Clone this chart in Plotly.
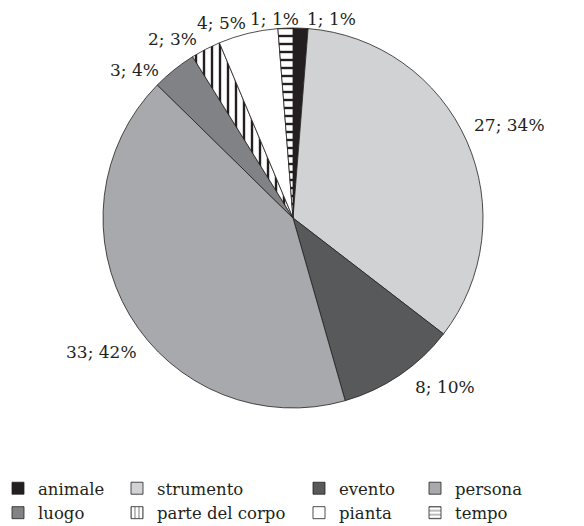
import plotly.graph_objects as go

labels = ["animale", "strumento", "evento", "persona", "luogo", "parte del corpo", "pianta", "tempo"]
values = [1, 27, 8, 33, 3, 2, 4, 1]
colors = ["#231f20", "#d1d2d3", "#58595b", "#a7a9ac", "#808285", "#ffffff", "#ffffff", "#ffffff"]
shapes = ["", "", "", "", "", "|", "", "-"]
# legend column for each category (legend layout: 4 columns x 2 rows)
legend_cols = ["legend", "legend2", "legend3", "legend4", "legend", "legend2", "legend3", "legend4"]

# page has an 8px body margin, so the figure is drawn 8px smaller
OFF = 8
W, H = 584 - OFF, 526 - OFF
FONT = "DejaVu Serif"
TXT = "#231f20"

# data-label text positions (page pixel centres of the text boxes)
label_px = [(331, 19), (509, 125), (445, 387), (101, 352), (134, 70), (172, 39), (221, 23), (274, 19)]

total = sum(values)
label_text = [f"{v}; {round(v / total * 100)}%" for v in values]


def px_x(p):
    return (p - OFF) / W


def px_y(p):
    return 1 - (p - OFF) / H


fig = go.Figure()

fig.add_trace(go.Pie(
    labels=labels,
    values=values,
    sort=False,
    direction="clockwise",
    rotation=0,
    marker=dict(
        colors=colors,
        line=dict(color="#231f20", width=0.8),
        pattern=dict(shape=shapes, fgcolor="#231f20", bgcolor="#ffffff",
                     size=8, solidity=0.3, fillmode="replace"),
    ),
    textinfo="none",
    showlegend=False,
    domain=dict(x=[px_x(103), px_x(483)], y=[px_y(408), px_y(28)]),
    hoverinfo="label+value+percent",
))

for lab, col, shp, lg in zip(labels, colors, shapes, legend_cols):
    fig.add_trace(go.Bar(
        x=[None], y=[None], name=lab,
        marker=dict(color=col, line=dict(color="#231f20", width=0.8),
                    pattern=dict(shape=shp, fgcolor="#231f20", bgcolor="#ffffff",
                                 size=5, solidity=0.3)),
        legend=lg, showlegend=True, hoverinfo="skip",
    ))

annotations = [
    dict(x=px_x(px), y=px_y(py), xref="paper", yref="paper", text=t, showarrow=False,
         xanchor="center", yanchor="middle", font=dict(family=FONT, size=17, color=TXT))
    for (px, py), t in zip(label_px, label_text)
]

legend_common = dict(font=dict(family=FONT, size=16.5, color=TXT), bgcolor="rgba(0,0,0,0)",
                     orientation="v", xanchor="left", yanchor="top", y=px_y(471),
                     traceorder="normal", tracegroupgap=0)

fig.update_layout(
    width=W, height=H,
    margin=dict(l=0, r=0, t=0, b=0, autoexpand=False),
    paper_bgcolor="white", plot_bgcolor="white",
    xaxis=dict(visible=False), yaxis=dict(visible=False),
    annotations=annotations,
    legend=dict(x=px_x(-2), **legend_common),
    legend2=dict(x=px_x(117), **legend_common),
    legend3=dict(x=px_x(299), **legend_common),
    legend4=dict(x=px_x(415), **legend_common),
)

fig.write_html("out.html")
